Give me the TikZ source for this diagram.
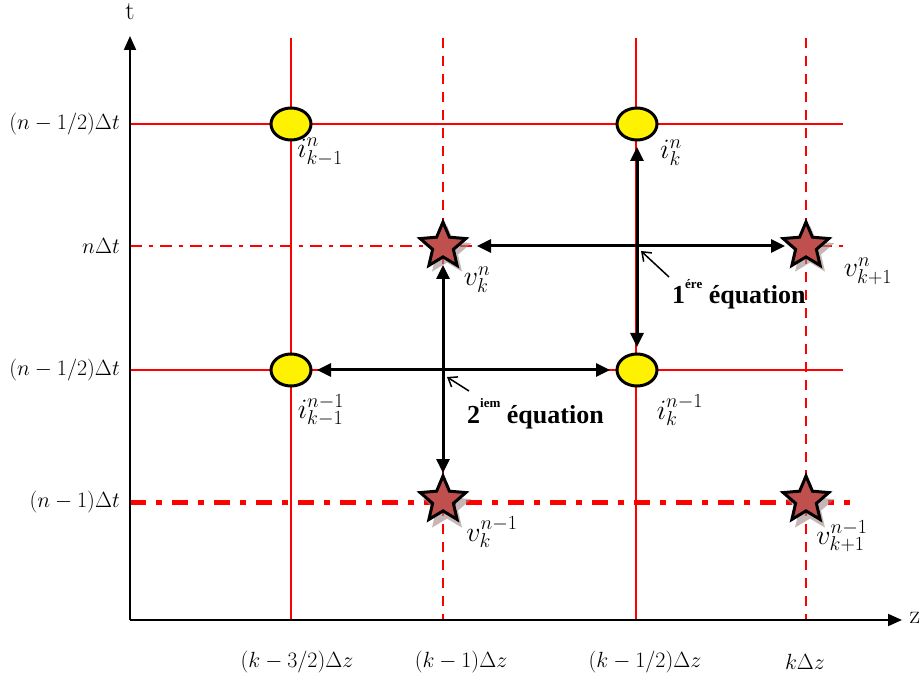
\RequirePackage{fix-cm}
\documentclass[tikz,border=0pt]{standalone}
\usepackage{fontspec}
\newfontfamily\boldserif{Liberation Serif}
\usetikzlibrary{arrows.meta,shapes.geometric}
\definecolor{starred}{HTML}{C0504D}
\definecolor{starshadow}{HTML}{A08585}
\DeclareMathSizes{28}{28}{20}{14}
\begin{document}
\begin{tikzpicture}[x=1pt,y=-1pt,
  gridsolid/.style={red, line width=1.6pt},
  griddash/.style={red, line width=2pt, dash pattern=on 10pt off 8pt},
  griddot/.style={red, line width=2.6pt, dash pattern=on 12pt off 7pt on 4pt off 7pt},
  griddotthick/.style={red, line width=5pt, dash pattern=on 16pt off 10pt on 6pt off 10pt},
  axis/.style={black, line width=2pt, -{Triangle[length=14pt,width=12pt]}},
  bigarrow/.style={black, line width=3pt, {Triangle[length=14pt,width=13pt]}-{Triangle[length=14pt,width=13pt]}},
  pointer/.style={black, line width=1.5pt, -{Straight Barb[length=8pt,width=12pt]}},
  inode/.style={ellipse, draw=black, line width=3pt, fill=yellow, minimum width=40pt, minimum height=32pt, inner sep=0pt},
  vnode/.style={star, star points=5, star point ratio=2.2, draw=black, line width=3pt, fill=starred, minimum size=48pt, inner sep=0pt},
  vshadow/.style={star, star points=5, star point ratio=2.2, fill=starshadow, opacity=0.6, minimum size=51pt, inner sep=0pt},
  axlabel/.style={font=\fontsize{22}{26}\selectfont, anchor=east, inner sep=0pt},
  xlabel/.style={font=\fontsize{22}{26}\selectfont, inner sep=0pt},
  ptlabel/.style={font=\fontsize{28}{32}\selectfont, inner sep=0pt},
  eqlabel/.style={font=\boldserif\bfseries\fontsize{26}{30}\selectfont, inner sep=0pt, anchor=base west},
]
\useasboundingbox (0,0) rectangle (922,679);

% grid coordinates
\coordinate (O) at (130,620);
\coordinate (ttip) at (130,36);
\coordinate (ztip) at (902,620);

% vertical grid lines
\coordinate (v1t) at (291,38);  \coordinate (v1b) at (291,620);
\coordinate (v2t) at (443,38);  \coordinate (v2b) at (443,620);
\coordinate (v3t) at (636,38);  \coordinate (v3b) at (636,620);
\coordinate (v4t) at (806,38);  \coordinate (v4b) at (806,620);
\draw[gridsolid] (v1t) -- (v1b);
\draw[griddash] (v2t) -- (v2b);
\draw[gridsolid] (v3t) -- (v3b);
\draw[griddash] (v4t) -- (v4b);

% horizontal grid lines
\coordinate (h1l) at (130,124); \coordinate (h1r) at (843,124);
\coordinate (h2l) at (130,246); \coordinate (h2r) at (843,246);
\coordinate (h3l) at (130,370); \coordinate (h3r) at (843,370);
\coordinate (h4l) at (130,502); \coordinate (h4r) at (850,502);
\draw[gridsolid] (h1l) -- (h1r);
\draw[griddot] (h2l) -- (h2r);
\draw[gridsolid] (h3l) -- (h3r);
\draw[griddotthick] (h4l) -- (h4r);

% axes
\draw[axis] (O) -- (ttip);
\draw[axis] (O) -- (ztip);
\node[font=\fontsize{26}{30}\selectfont, inner sep=0pt] (tlab) at (130,12) {t};
\node[font=\fontsize{26}{30}\selectfont, inner sep=0pt] (zlab) at (915,618) {z};

% axis labels
\node[axlabel] (yl1) at (120,124) {$(n-1/2)\Delta t$};
\node[axlabel] (yl2) at (120,246) {$n\Delta t$};
\node[axlabel] (yl3) at (120,370) {$(n-1/2)\Delta t$};
\node[axlabel] (yl4) at (120,502) {$(n-1)\Delta t$};
\node[xlabel] (xl1) at (297,662) {$(k-3/2)\Delta z$};
\node[xlabel] (xl2) at (461,662) {$(k-1)\Delta z$};
\node[xlabel] (xl3) at (645,662) {$(k-1/2)\Delta z$};
\node[xlabel] (xl4) at (805,662) {$k\Delta z$};

% star shadows
\node[vshadow] (sh1) at (447,251) {};
\node[vshadow] (sh2) at (810,251) {};
\node[vshadow] (sh3) at (447,507) {};
\node[vshadow] (sh4) at (810,507) {};

% current nodes (ellipses)
\node[inode] (i1) at (291,124) {};
\node[inode] (i2) at (637,124) {};
\node[inode] (i3) at (291,370) {};
\node[inode] (i4) at (637,370) {};

% voltage nodes (stars)
\node[vnode] (s1) at (443,246) {};
\node[vnode] (s2) at (806,246) {};
\node[vnode] (s3) at (443,500) {};
\node[vnode] (s4) at (806,500) {};

% big arrows
\draw[bigarrow, shorten <=23pt, shorten >=23pt] (i2.center) -- (i4.center);
\draw[bigarrow, shorten <=34pt, shorten >=21pt] (s1.center) -- (s2.center);
\draw[bigarrow, shorten <=19pt, shorten >=27pt] (s1.center) -- (s3.center);
\draw[bigarrow, shorten <=26pt, shorten >=27pt] (i3.center) -- (i4.center);

% point labels
\node[ptlabel] (li1) at (320,152) {$i^{n}_{k-1}$};
\node[ptlabel] (li2) at (671,153) {$i^{n}_{k}$};
\node[ptlabel] (lv1) at (477,280) {$v^{n}_{k}$};
\node[ptlabel] (lv2) at (868,271) {$v^{n}_{k+1}$};
\node[ptlabel] (li3) at (321,410) {$i^{n-1}_{k-1}$};
\node[ptlabel] (li4) at (680,410) {$i^{n-1}_{k}$};
\node[ptlabel] (lv3) at (492,532) {$v^{n-1}_{k}$};
\node[ptlabel] (lv4) at (842,536) {$v^{n-1}_{k+1}$};

% equation labels
\node[eqlabel] (eq1) at (672,304) {1\raisebox{0.6em}{\fontsize{13}{14}\selectfont ére} équation};
\node[eqlabel] (eq2) at (467,423) {2\raisebox{0.6em}{\fontsize{13}{14}\selectfont iem} équation};

% pointers
\coordinate (p1) at (641,251);
\coordinate (q1) at (669,277);
\coordinate (p2) at (447,377);
\coordinate (q2) at (469,391);
\draw[pointer] (q1) -- (p1);
\draw[pointer] (q2) -- (p2);
\end{tikzpicture}
\end{document}
